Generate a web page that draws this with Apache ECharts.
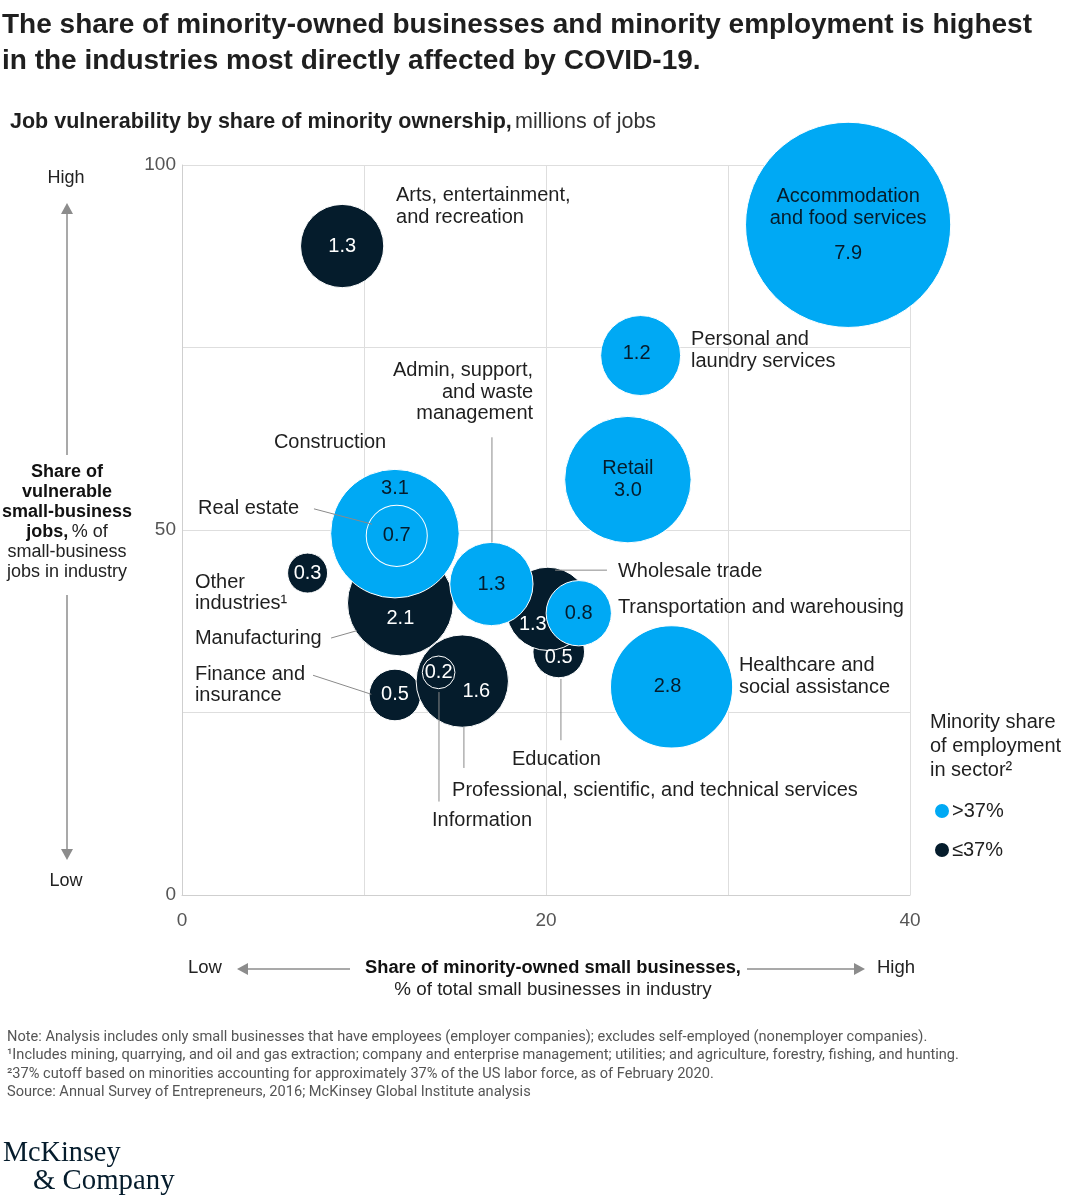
<!DOCTYPE html>
<html>
<head>
<meta charset="utf-8">
<script src="https://cdn.jsdelivr.net/npm/echarts@6/dist/echarts.min.js"></script>
<style>
  html, body { margin: 0; padding: 0; background: #fff; }
  #chart { width: 1072px; height: 1200px; }
</style>
</head>
<body>
<div id="chart"></div>
<script>
// industries, ordered so the overlapping bubbles stack like the original
const industries = [
  'Arts, entertainment, and recreation', 'Other industries', 'Manufacturing', 'Education',
  'Wholesale trade', 'Finance and insurance', 'Professional, scientific, and technical services', 'Information',
  'Accommodation and food services', 'Personal and laundry services', 'Retail', 'Construction',
  'Real estate', 'Admin, support, and waste management', 'Transportation and warehousing', 'Healthcare and social assistance'
];
// x: share of minority-owned small businesses, %
const minorityOwned = [8.8, 6.9, 12.0, 20.7, 20.1, 11.7, 15.4, 14.1, 36.6, 25.2, 24.5, 11.7, 11.8, 17.0, 21.8, 26.9];
// y: share of vulnerable small-business jobs, %
const vulnerableJobs = [88.9, 44.1, 40.0, 33.3, 39.2, 27.4, 29.3, 30.5, 91.8, 73.9, 56.9, 49.5, 49.2, 42.6, 38.6, 28.5];
// bubble size: millions of jobs
const jobsMillions = [1.3, 0.3, 2.1, 0.5, 1.3, 0.5, 1.6, 0.2, 7.9, 1.2, 3.0, 3.1, 0.7, 1.3, 0.8, 2.8];
// minority share of employment in sector
const minorityEmployment = ['low', 'low', 'low', 'low', 'low', 'low', 'low', 'low',
  'high', 'high', 'high', 'high', 'high', 'high', 'high', 'high'];

const xTicks = [0, 20, 40];
const yTicks = [0, 50, 100];

const BLUE = '#00a9f4';
const NAVY = '#051c2c';
const FONT = 'Liberation Sans';

// labels drawn inside some bubbles differ from the plain value
const insideLabel = {
  'Accommodation and food services': { text: '{n|Accommodation}\n{n|and food services}\n{v|7.9}' },
  'Retail': { text: '{n|Retail}\n{n|3.0}' },
  'Construction': { offset: [0, -45] },
  'Manufacturing': { offset: [0, 15] },
  'Wholesale trade': { offset: [-15, 16] },
  'Education': { offset: [0, 6] },
  'Professional, scientific, and technical services': { offset: [14, 10] },
  'Personal and laundry services': { offset: [-4, -2] },
  'Healthcare and social assistance': { offset: [-4, 0] }
};

// outside callouts, anchored in data units
const callouts = [
  { text: 'Arts, entertainment,\nand recreation', at: [11.76, 94.3] },
  { text: 'Personal and\nlaundry services', at: [27.97, 74.6] },
  { text: 'Admin, support,\nand waste\nmanagement', at: [19.29, 68.9], align: 'right' },
  { text: 'Construction', at: [5.05, 62.05] },
  { text: 'Real estate', at: [0.88, 52.9] },
  { text: 'Other\nindustries¹', at: [0.71, 41.4] },
  { text: 'Manufacturing', at: [0.71, 35.2] },
  { text: 'Finance and\ninsurance', at: [0.71, 28.8] },
  { text: 'Wholesale trade', at: [23.95, 44.25] },
  { text: 'Transportation and warehousing', at: [23.95, 39.45] },
  { text: 'Healthcare and\nsocial assistance', at: [30.6, 29.9] },
  { text: 'Education', at: [18.13, 18.6] },
  { text: 'Professional, scientific, and technical services', at: [14.84, 14.25] },
  { text: 'Information', at: [13.74, 10.27] }
];
const leaders = [
  [[17.03, 62.7], [17.03, 48.3]],
  [[7.25, 52.9], [10.44, 50.8]],
  [[8.19, 35.2], [9.6, 36.2]],
  [[7.2, 30.1], [10.4, 27.5]],
  [[20.5, 44.5], [23.35, 44.5]],
  [[20.82, 29.6], [20.82, 21.2]],
  [[15.49, 23.0], [15.49, 17.4]],
  [[14.12, 27.8], [14.12, 12.8]]
];

function bubbleSeries(group, name, color, textColor, z) {
  const data = [];
  industries.forEach(function (ind, i) {
    if (minorityEmployment[i] !== group) return;
    const lab = insideLabel[ind] || {};
    data.push({
      name: ind,
      value: [minorityOwned[i], vulnerableJobs[i], jobsMillions[i]],
      label: {
        formatter: lab.text || jobsMillions[i].toFixed(1),
        offset: lab.offset || [0, 0]
      }
    });
  });
  return {
    name: name,
    type: 'scatter',
    z: z,
    data: data,
    symbolSize: function (v) { return 73 * Math.sqrt(v[2]); },
    itemStyle: { color: color, borderColor: '#fff', borderWidth: 1, opacity: 1 },
    label: {
      show: true,
      position: 'inside',
      color: textColor,
      fontFamily: FONT,
      fontSize: 20,
      rich: {
        n: { color: textColor, fontFamily: FONT, fontSize: 20, lineHeight: 22 },
        v: { color: textColor, fontFamily: FONT, fontSize: 20, lineHeight: 34, verticalAlign: 'bottom' }
      }
    },
    emphasis: { disabled: true }
  };
}

let chart = echarts.init(document.getElementById('chart'));

const arrowColor = '#8c8c8c';
const staticGraphics = [
  // title
  { type: 'text', left: 2, top: 7, style: { text: 'The share of minority-owned businesses and minority employment is highest\nin the industries most directly affected by COVID-19.', font: 'bold 28px ' + FONT, fill: '#1f1f1f', lineHeight: 36 } },
  // subtitle
  { type: 'text', left: 10, top: 111, style: { text: '{b|Job vulnerability by share of minority ownership,} {r|millions of jobs}', rich: {
    b: { font: 'bold 21.5px ' + FONT, fill: '#1f1f1f' }, r: { font: '21.5px ' + FONT, fill: '#333' } } } },
  // y descriptor
  { type: 'text', x: 66, y: 178, style: { text: 'High', font: '18px ' + FONT, fill: '#222', align: 'center', verticalAlign: 'middle' } },
  { type: 'line', shape: { x1: 67, y1: 212, x2: 67, y2: 455 }, style: { stroke: arrowColor, lineWidth: 1.5 } },
  { type: 'polygon', shape: { points: [[61, 214], [73, 214], [67, 203]] }, style: { fill: arrowColor } },
  { type: 'text', x: 67, y: 522, style: {
    text: '{b|Share of}\n{b|vulnerable}\n{b|small-business}\n{b|jobs,} {r|% of}\n{r|small-business}\n{r|jobs in industry}',
    align: 'center', verticalAlign: 'middle',
    rich: { b: { font: 'bold 18px ' + FONT, fill: '#111', lineHeight: 20 }, r: { font: '18px ' + FONT, fill: '#222', lineHeight: 20 } } } },
  { type: 'line', shape: { x1: 67, y1: 595, x2: 67, y2: 850 }, style: { stroke: arrowColor, lineWidth: 1.5 } },
  { type: 'polygon', shape: { points: [[61, 849], [73, 849], [67, 860]] }, style: { fill: arrowColor } },
  { type: 'text', x: 66, y: 881, style: { text: 'Low', font: '18px ' + FONT, fill: '#222', align: 'center', verticalAlign: 'middle' } },
  // x descriptor
  { type: 'text', x: 205, y: 968, style: { text: 'Low', font: '18.5px ' + FONT, fill: '#222', align: 'center', verticalAlign: 'middle' } },
  { type: 'line', shape: { x1: 246, y1: 969, x2: 350, y2: 969 }, style: { stroke: arrowColor, lineWidth: 1.5 } },
  { type: 'polygon', shape: { points: [[248, 963], [248, 975], [237, 969]] }, style: { fill: arrowColor } },
  { type: 'text', x: 553, y: 968, style: { text: 'Share of minority-owned small businesses,', font: 'bold 18.3px ' + FONT, fill: '#111', align: 'center', verticalAlign: 'middle' } },
  { type: 'text', x: 553, y: 990, style: { text: '% of total small businesses in industry', font: '18.8px ' + FONT, fill: '#222', align: 'center', verticalAlign: 'middle' } },
  { type: 'line', shape: { x1: 747, y1: 969, x2: 856, y2: 969 }, style: { stroke: arrowColor, lineWidth: 1.5 } },
  { type: 'polygon', shape: { points: [[854, 963], [854, 975], [865, 969]] }, style: { fill: arrowColor } },
  { type: 'text', x: 896, y: 968, style: { text: 'High', font: '18.5px ' + FONT, fill: '#222', align: 'center', verticalAlign: 'middle' } },
  // legend title
  { type: 'text', left: 930, top: 710, style: { text: 'Minority share\nof employment\nin sector²', font: '20px ' + FONT, fill: '#1f1f1f', lineHeight: 24 } },
  // notes
  { type: 'text', left: 7, top: 1028, style: {
    text: 'Note: Analysis includes only small businesses that have employees (employer companies); excludes self-employed (nonemployer companies).\n¹Includes mining, quarrying, and oil and gas extraction; company and enterprise management; utilities; and agriculture, forestry, fishing, and hunting.\n²37% cutoff based on minorities accounting for approximately 37% of the US labor force, as of February 2020.\nSource: Annual Survey of Entrepreneurs, 2016; McKinsey Global Institute analysis',
    font: '14.6px Roboto', fill: '#555', lineHeight: 18.5 } },
  // logo
  { type: 'text', left: 3, top: 1138, scaleX: 0.94, style: { text: 'McKinsey', font: '30px "Liberation Serif"', fill: '#051c2c' } },
  { type: 'text', left: 33, top: 1166, scaleX: 0.96, style: { text: '& Company', font: '30px "Liberation Serif"', fill: '#051c2c' } }
];

chart.setOption({
  animation: false,
  textStyle: { fontFamily: FONT },
  grid: { left: 182, top: 165, width: 728, height: 730 },
  legend: {
    orient: 'vertical',
    left: 928,
    top: 796,
    itemGap: 19,
    itemWidth: 16,
    itemHeight: 16,
    icon: 'circle',
    selectedMode: false,
    data: ['>37%', '≤37%'],
    textStyle: { fontSize: 20, color: '#1f1f1f', fontFamily: FONT, padding: [0, 0, 0, -3] }
  },
  xAxis: {
    type: 'value', min: 0, max: 40, interval: 10,
    axisLine: { show: true, lineStyle: { color: '#cfcfcf' } },
    axisTick: { show: false },
    splitLine: { show: true, lineStyle: { color: '#dedede' } },
    axisLabel: {
      margin: 16, fontSize: 19, color: '#555', fontFamily: FONT,
      formatter: function (v) { return xTicks.indexOf(v) >= 0 ? String(v) : ''; }
    }
  },
  yAxis: {
    type: 'value', min: 0, max: 100, interval: 25,
    axisLine: { show: true, lineStyle: { color: '#cfcfcf' } },
    axisTick: { show: false },
    splitLine: { show: true, lineStyle: { color: '#dedede' } },
    axisLabel: {
      margin: 6, fontSize: 19, color: '#555', fontFamily: FONT,
      formatter: function (v) { return yTicks.indexOf(v) >= 0 ? String(v) : ''; }
    }
  },
  series: [
    bubbleSeries('low', '≤37%', NAVY, '#fff', 2),
    bubbleSeries('high', '>37%', BLUE, NAVY, 3)
  ]
});

// callouts and leader lines placed through the grid's own scale
const px = function (p) { return chart.convertToPixel({ gridIndex: 0 }, p); };
const annotationGraphics = [];
leaders.forEach(function (l) {
  const a = px(l[0]), b = px(l[1]);
  annotationGraphics.push({ type: 'line', z: 50, shape: { x1: a[0], y1: a[1], x2: b[0], y2: b[1] }, style: { stroke: '#8a8a8a', lineWidth: 1 } });
});
callouts.forEach(function (c) {
  const p = px(c.at);
  annotationGraphics.push({ type: 'text', z: 50, x: p[0], y: p[1], style: {
    text: c.text, font: '20px ' + FONT, fill: '#1f1f1f', lineHeight: 21.5,
    align: c.align || 'left', verticalAlign: 'middle' } });
});

chart.setOption({ graphic: staticGraphics.concat(annotationGraphics) });
</script>
</body>
</html>
